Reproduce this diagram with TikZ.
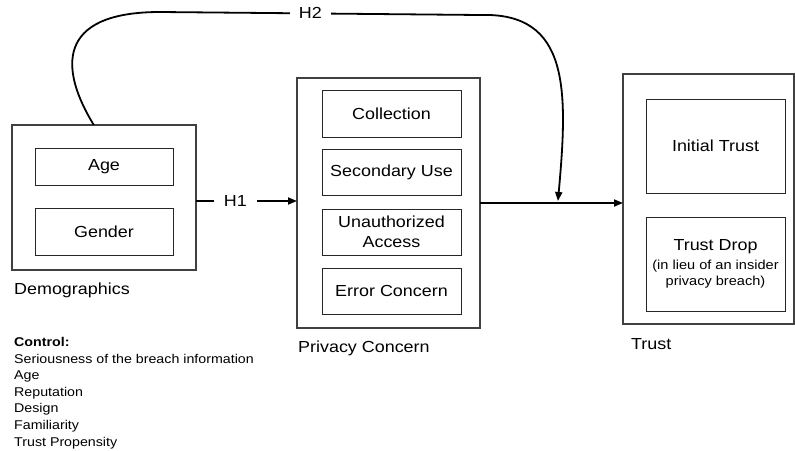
\documentclass[tikz,border=0pt]{standalone}
\usepackage{fontspec}
\setmainfont{Liberation Sans}[FakeStretch=1.12]
\usetikzlibrary{arrows.meta}

\newcommand{\smalltxt}{\fontsize{13}{16}\selectfont}

\tikzset{
  outerbox/.style={draw=black!75, line width=1.2pt, inner sep=0pt, outer sep=0pt},
  innerbox/.style={draw=black!85, line width=0.9pt, inner sep=0pt, outer sep=0pt,
    align=center, minimum width=139pt, font=\fontsize{16}{20}\selectfont},
  conn/.style={line width=1.8pt, -{Triangle[length=9pt,width=7pt]}},
  hlabel/.style={fill=white, inner ysep=2pt, font=\fontsize{16}{20}\selectfont},
  lbl/.style={anchor=west, inner sep=0pt, font=\fontsize{16}{20}\selectfont},
}

\begin{document}
\begin{tikzpicture}[x=1pt,y=-1pt]
  % page frame
  \useasboundingbox (0,0) rectangle (795,450);

  % Demographics
  \node[outerbox, minimum width=184pt, minimum height=145pt] (demo) at (104,197.5) {};
  \node[innerbox, minimum width=138pt, minimum height=37pt] (age) at (104,166.5) {Age};
  \node[innerbox, minimum width=138pt, minimum height=47pt] (gender) at (104,231.5) {Gender};
  \node[lbl] (demolbl) at (14,290) {Demographics};

  % Privacy Concern
  \node[outerbox, minimum width=183pt, minimum height=250pt] (pc) at (388.5,203) {};
  \node[innerbox, minimum height=47pt] (coll) at (391.5,113.5) {Collection};
  \node[innerbox, minimum height=46pt] (secuse) at (391.5,172) {Secondary Use};
  \node[innerbox, minimum height=46pt] (unauth) at (391.5,232) {Unauthorized\\Access};
  \node[innerbox, minimum height=46pt] (err) at (391.5,291) {Error Concern};
  \node[lbl] (pclbl) at (298,348) {Privacy Concern};

  % Trust
  \node[outerbox, minimum width=171pt, minimum height=250pt] (trust) at (708.5,199) {};
  \node[innerbox, minimum height=94pt] (init) at (715.5,146) {Initial Trust};
  \node[innerbox, minimum height=94pt] (drop) at (715.5,264)
    {Trust Drop\\[-1pt]\smalltxt (in lieu of an insider\\[-4pt]\smalltxt privacy breach)};
  \node[lbl] (trustlbl) at (631,344) {Trust};

  % Controls
  \node[anchor=north west, inner sep=0pt, align=left,
    font=\fontsize{12.7}{16.6}\selectfont] (ctrl) at (14,337)
    {\textbf{Control:}\\Seriousness of the breach information\\Age\\Reputation\\Design\\Familiarity\\Trust Propensity};

  % connectors
  \draw[conn] ([yshift=-3.5pt]demo.east) -- node[hlabel, pos=0.39, inner xsep=10pt] {H1}
    ([yshift=-3.5pt]demo.east -| pc.west);
  \draw[conn] (pc.east) -- coordinate[pos=0.545] (join) (pc.east -| trust.west);
  \draw[conn] (demo.98) .. controls (60,70) and (55,12) .. (160,12)
    -- node[hlabel, pos=0.47, inner xsep=9pt] {H2} (480,15)
    .. controls (570,12) and (568,90) .. ([yshift=2pt]join);
\end{tikzpicture}
\end{document}
